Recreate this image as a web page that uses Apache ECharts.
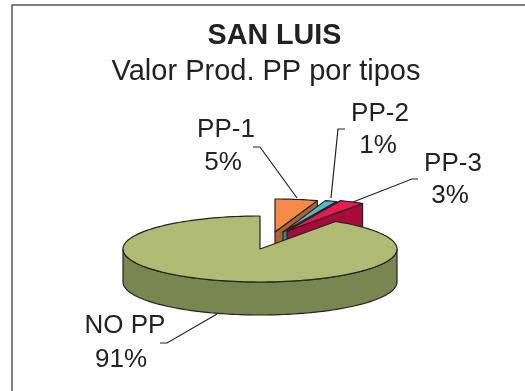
<!DOCTYPE html>
<html><head><meta charset="utf-8">
<style>html,body{margin:0;padding:0;background:#fff}#c{width:525px;height:391px}</style>
<script src="https://cdn.jsdelivr.net/npm/echarts@6/dist/echarts.min.js"></script>
</head><body><div id="c"></div>
<script>
const categories = ['PP-1', 'PP-2', 'PP-3', 'NO PP'];
const shares = [5.0, 1.4, 2.9, 90.7];
const topColors = ['#F68B47', '#4CBEC9', '#EA1A52', '#AFBB73'];
const sideColors = ['#B2622D', '#2F8C9B', '#A90A3C', '#7B8550'];
const explode = [[15, -17], [23, -17], [27, -18], [0, 0]];
const labelCenters = [[226, 130, 223, 163], [380, 114, 378, 146], [453, 164, 450, 196], [125, 326, 121, 360]];
const leaders = [
  [[253, 147], [260, 147], [297, 198]],
  [[345, 129], [338, 129], [331, 198]],
  [[418, 179], [412, 179], [353, 202]],
  [[160, 343], [167, 343], [217, 314]]
];
const cx = 260, cy = 249, rx = 137, ry = 33, depth = 33;
const total = shares.reduce((a, b) => a + b, 0);
const starts = shares.map((_, i) => shares.slice(0, i).reduce((a, b) => a + b, 0) / total * 360);
const stroke = { stroke: '#222', lineWidth: 1.2, lineJoin: 'round' };
const rad = d => d * Math.PI / 180;
const pt = (i, a, dz) => [cx + explode[i][0] + rx * Math.sin(rad(a)), cy + explode[i][1] - ry * Math.cos(rad(a)) + (dz || 0)];
const arc = (i, a0, a1, dz) => {
  const out = [];
  const n = Math.max(2, Math.ceil((a1 - a0) / 2));
  for (let k = 0; k <= n; k++) out.push(pt(i, a0 + (a1 - a0) * k / n, dz));
  return out;
};
const apex = (i, dz) => [cx + explode[i][0], cy + explode[i][1] + (dz || 0)];
const poly = (points, fill, z2) => ({ type: 'polygon', z2, shape: { points }, style: Object.assign({ fill }, stroke) });

function renderSlice(params, api) {
  const i = api.value(0);
  const a0 = starts[i];
  const a1 = a0 + api.value(1) / total * 360;
  const side = sideColors[i];
  const kids = [];
  const face = a => poly([apex(i), pt(i, a), pt(i, a, depth), apex(i, depth)], side, 1);
  if (a0 > 180 && a0 < 360) kids.push(face(a0));
  if (a1 > 0 && a1 < 180) kids.push(face(a1));
  const f0 = Math.max(a0, 90), f1 = Math.min(a1, 270);
  if (f1 > f0) kids.push(poly(arc(i, f0, f1).concat(arc(i, f0, f1, depth).reverse()), side, 2));
  kids.push(poly([apex(i)].concat(arc(i, a0, a1)), topColors[i], 3));
  return { type: 'group', children: kids };
}
function renderLabel(params, api) {
  const i = api.value(0);
  const c = labelCenters[i];
  const txt = (t, x, y) => ({ type: 'text', style: { text: t, x, y, align: 'center', verticalAlign: 'middle', fill: '#222', font: '26px "Liberation Sans", Arial, sans-serif' } });
  return { type: 'group', children: [
    { type: 'polyline', shape: { points: leaders[i] }, style: { stroke: '#222', lineWidth: 1.2, fill: 'none' } },
    txt(categories[i], c[0], c[1]),
    txt(Math.round(api.value(1) / total * 100) + '%', c[2], c[3])
  ] };
}
const rows = categories.map((name, i) => ({ name, value: [i, shares[i]] }));
const chart = echarts.init(document.getElementById('c'), null, { renderer: 'canvas' });
chart.setOption({
  animation: false,
  backgroundColor: '#fff',
  title: [
    { text: 'SAN LUIS', left: 269.5, top: 31, textAlign: 'center', textVerticalAlign: 'middle',
      textStyle: { fontFamily: 'Liberation Sans', fontSize: 28.7, fontWeight: 'bold', color: '#222' } },
    { text: 'Valor Prod. PP por tipos', left: 261, top: 67, textAlign: 'center', textVerticalAlign: 'middle',
      textStyle: { fontFamily: 'Liberation Sans', fontSize: 29, fontWeight: 'normal', color: '#222' } }
  ],
  graphic: [{ type: 'polyline', silent: true, shape: { points: [[12, 391], [12, 5], [525, 5]] }, style: { stroke: '#555', lineWidth: 1.5, fill: 'none' } }],
  series: [
    { type: 'custom', coordinateSystem: 'none', silent: true, z: 2, renderItem: renderSlice, data: rows },
    { type: 'custom', coordinateSystem: 'none', silent: true, z: 3, renderItem: renderLabel, data: rows }
  ]
});
</script></body></html>
